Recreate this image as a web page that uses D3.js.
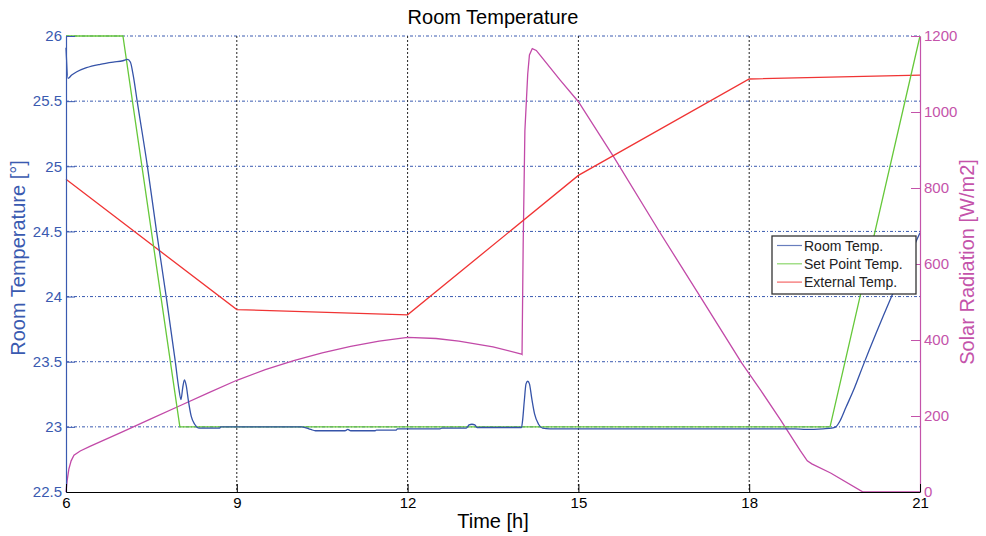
<!DOCTYPE html>
<html>
<head>
<meta charset="utf-8">
<script src="https://cdn.jsdelivr.net/npm/d3@7"></script>
<style>
  html, body { margin: 0; padding: 0; background: #ffffff; }
  svg { display: block; font-family: "Liberation Sans", Arial, Helvetica, sans-serif; }
</style>
</head>
<body>
<svg id="chart" width="986" height="536"></svg>
<script>
// Axis ticks
const xTicks = [6, 9, 12, 15, 18, 21];
const tempTicks = [22.5, 23, 23.5, 24, 24.5, 25, 25.5, 26];
const solarTicks = [0, 200, 400, 600, 800, 1000, 1200];

// Room temperature [°C] over the day (hours)
const roomTime = [6.0, 6.035, 6.1, 6.19, 6.36, 6.6, 6.83, 7.0, 7.08, 7.13, 7.18, 7.25, 7.43, 7.59, 7.76, 7.92, 7.98, 8.02, 8.05, 8.08, 8.11, 8.15, 8.2, 8.26, 8.34, 8.7, 8.72, 10.14, 10.3, 10.38, 10.9, 10.95, 11.0, 11.43, 11.45, 11.8, 11.82, 12.57, 12.6, 13.03, 13.08, 13.13, 13.18, 13.22, 14.0, 14.02, 14.05, 14.08, 14.11, 14.14, 14.18, 14.23, 14.3, 14.37, 14.5, 18.8, 19.0, 19.3, 19.45, 19.52, 19.6, 19.7, 19.85, 20.0, 20.5, 21.0];
const roomTemp = [25.91, 25.675, 25.70, 25.726, 25.757, 25.783, 25.80, 25.81, 25.82, 25.80, 25.70, 25.5, 25.0, 24.5, 24.0, 23.5, 23.3, 23.21, 23.3, 23.36, 23.32, 23.2, 23.08, 23.02, 22.99, 22.99, 23.0, 23.0, 22.98, 22.97, 22.97, 22.98, 22.97, 22.97, 22.975, 22.975, 22.985, 22.985, 22.99, 22.99, 23.015, 23.02, 23.015, 22.995, 22.995, 23.05, 23.2, 23.33, 23.35, 23.33, 23.22, 23.1, 23.02, 22.99, 22.985, 22.985, 22.98, 22.985, 22.99, 23.0, 23.05, 23.15, 23.3, 23.47, 24.0, 24.49];

// Set point temperature [°C]
const setTime = [6, 7, 8, 19.42, 21];
const setTemp = [26, 26, 23, 23, 26];

// External temperature [°C]
const extTime = [6, 9, 12, 15, 18, 21];
const extTemp = [24.90, 23.90, 23.86, 24.93, 25.67, 25.70];

// Solar radiation [W/m2]
const solarTime = [6.0, 6.02, 6.05, 6.09, 6.14, 6.25, 6.42, 7.0, 7.5, 8.0, 8.5, 9.0, 9.5, 10.0, 10.5, 11.0, 11.5, 12.0, 12.5, 12.9, 13.5, 14.0, 14.01, 14.03, 14.06, 14.09, 14.11, 14.14, 14.19, 14.26, 14.33, 14.68, 15.0, 15.62, 16.44, 17.14, 17.87, 18.2, 18.55, 18.9, 19.02, 19.1, 19.43, 20.0, 21.0];
const solar = [0, 30, 60, 82, 97, 108, 120, 159, 193, 227, 261, 294, 322, 346, 366, 383, 397, 407, 404, 397, 382, 363, 362, 650, 950, 1040, 1100, 1150, 1167, 1162, 1149, 1084, 1027, 882, 681, 514, 339, 268, 190, 108, 82, 74, 50, 0, 0];

const legendItems = ["Room Temp.", "Set Point Temp.", "External Temp."];

const C = {
  blue: "#3553a8",
  blueAxis: "#3a5ab0",
  green: "#66c83a",
  red: "#f03434",
  magenta: "#c24aa8",
  magentaAxis: "#c453aa"
};

const svg = d3.select("#chart");
const plotL = 66, plotR = 920, plotT = 36, plotB = 492;

const x = d3.scaleLinear().domain([6, 21]).range([plotL, plotR]);
const yT = d3.scaleLinear().domain([22.5, 26]).range([plotB, plotT]);
const yS = d3.scaleLinear().domain([0, 1200]).range([plotB, plotT]);

// Grid: blue dash-dot horizontals, black dotted verticals
svg.append("g").selectAll("line")
  .data(tempTicks.filter(d => d > 22.5))
  .join("line")
  .attr("x1", plotL).attr("x2", plotR)
  .attr("y1", d => yT(d)).attr("y2", d => yT(d))
  .attr("stroke", C.blueAxis).attr("stroke-width", 1)
  .attr("stroke-dasharray", "3,2,1,2");

svg.append("g").selectAll("line")
  .data(xTicks.filter(d => d > 6 && d < 21))
  .join("line")
  .attr("x1", d => x(d)).attr("x2", d => x(d))
  .attr("y1", plotT).attr("y2", plotB)
  .attr("stroke", "#222").attr("stroke-width", 1)
  .attr("stroke-dasharray", "2,2");

// Series
const pts = (xs, ys) => xs.map((t, i) => [t, ys[i]]);
const lineT = d3.line().x(d => x(d[0])).y(d => yT(d[1]));
const lineS = d3.line().x(d => x(d[0])).y(d => yS(d[1]));

svg.append("path").datum(pts(solarTime, solar))
  .attr("d", lineS).attr("fill", "none")
  .attr("stroke", C.magenta).attr("stroke-width", 1.3);

svg.append("path").datum(pts(extTime, extTemp))
  .attr("d", lineT).attr("fill", "none")
  .attr("stroke", C.red).attr("stroke-width", 1.3);

svg.append("path").datum(pts(setTime, setTemp))
  .attr("d", lineT).attr("fill", "none")
  .attr("stroke", C.green).attr("stroke-width", 1.3);

svg.append("path").datum(pts(roomTime, roomTemp))
  .attr("d", d3.line().x(d => x(d[0])).y(d => yT(d[1])).curve(d3.curveMonotoneX))
  .attr("fill", "none")
  .attr("stroke", C.blue).attr("stroke-width", 1.3);

// Axes
const fmtT = d => (Number.isInteger(d) ? d : d.toFixed(1));
const tickFont = "Liberation Sans, Arial, sans-serif";

const gL = svg.append("g").attr("transform", `translate(${plotL},0)`)
  .call(d3.axisLeft(yT).tickValues(tempTicks).tickFormat(fmtT)
    .tickSizeInner(-9).tickSizeOuter(0).tickPadding(4));
gL.select(".domain").attr("stroke", C.blueAxis).attr("stroke-width", 1.2);
gL.selectAll(".tick line").attr("stroke", C.blueAxis);
gL.selectAll(".tick text").attr("fill", C.blueAxis)
  .style("font-size", "15px").style("font-family", tickFont);

const gR = svg.append("g").attr("transform", `translate(${plotR},0)`)
  .call(d3.axisRight(yS).tickValues(solarTicks).tickFormat(d3.format("d"))
    .tickSizeInner(-9).tickSizeOuter(0).tickPadding(4));
gR.select(".domain").attr("stroke", C.magentaAxis).attr("stroke-width", 1.2);
gR.selectAll(".tick line").attr("stroke", C.magentaAxis);
gR.selectAll(".tick text").attr("fill", C.magentaAxis)
  .style("font-size", "15px").style("font-family", tickFont);

const gB = svg.append("g").attr("transform", `translate(0,${plotB})`)
  .call(d3.axisBottom(x).tickValues(xTicks)
    .tickSizeInner(-8).tickSizeOuter(0).tickPadding(5));
gB.select(".domain").attr("stroke", "#000").attr("stroke-width", 1.2);
gB.selectAll(".tick line").attr("stroke", "#000");
gB.selectAll(".tick text").attr("fill", "#000")
  .style("font-size", "15px").style("font-family", tickFont);

// Titles
svg.append("text").attr("x", 493).attr("y", 24).attr("text-anchor", "middle")
  .style("font-size", "20px").attr("fill", "#000").text("Room Temperature");

svg.append("text").attr("x", 493).attr("y", 528).attr("text-anchor", "middle")
  .style("font-size", "20px").attr("fill", "#000").text("Time [h]");

svg.append("text").attr("transform", "translate(25,258) rotate(-90)")
  .attr("text-anchor", "middle").style("font-size", "20px")
  .attr("fill", C.blueAxis).text("Room Temperature [°]");

svg.append("text").attr("transform", "translate(974,262) rotate(-90)")
  .attr("text-anchor", "middle").style("font-size", "20px")
  .attr("fill", C.magentaAxis).text("Solar Radiation [W/m2]");

// Legend
const legColors = [C.blue, C.green, C.red];
const lg = svg.append("g").attr("transform", "translate(772,236)");
lg.append("rect").attr("width", 144).attr("height", 58)
  .attr("fill", "#fff").attr("stroke", "#333").attr("stroke-width", 1.3);
const rows = lg.selectAll("g.item").data(legendItems).join("g")
  .attr("class", "item")
  .attr("transform", (d, i) => `translate(0,${9.5 + i * 18.3})`);
rows.append("line").attr("x1", 5).attr("x2", 30).attr("y1", 0).attr("y2", 0)
  .attr("stroke", (d, i) => legColors[i]).attr("stroke-width", 1.2).attr("stroke-opacity", 0.75);
rows.append("text").attr("x", 32).attr("y", 5).style("font-size", "14px")
  .attr("fill", "#222").text(d => d);
</script>
</body>
</html>
